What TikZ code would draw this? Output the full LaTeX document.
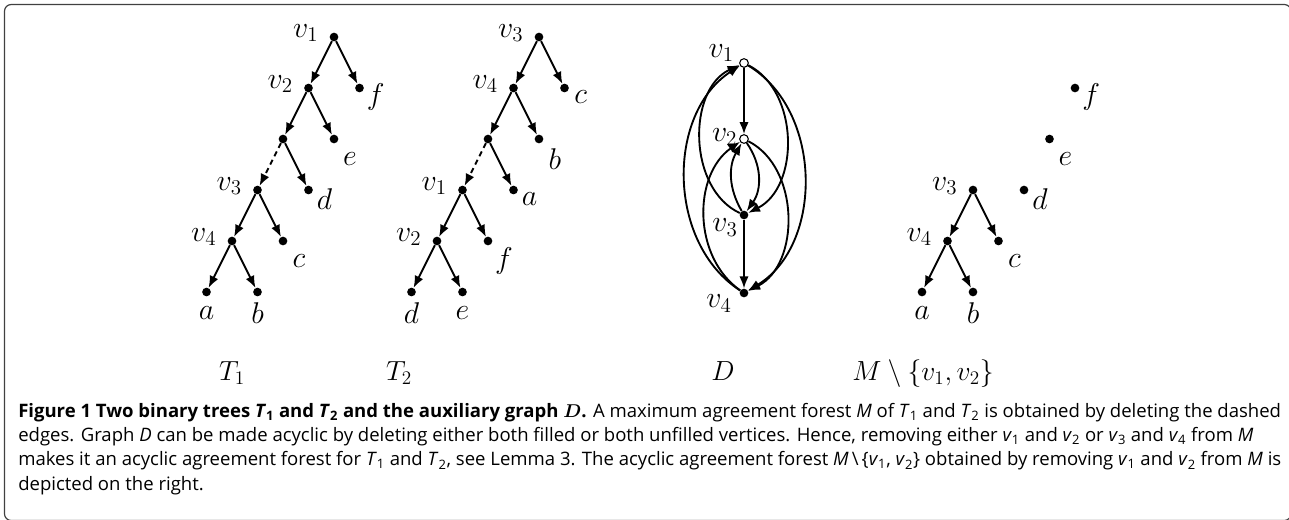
\RequirePackage{fix-cm}
\documentclass[tikz,border=0pt]{standalone}
\usepackage{amsmath,bm}
\usepackage{fontspec}
\newfontfamily\capfont{Open Sans}
\usetikzlibrary{arrows.meta,positioning}

\begin{document}
\begin{tikzpicture}[x=0.75pt, y=-0.75pt,
 node distance=38.25pt and 19.125pt, on grid, >={Latex[length=9pt,width=7pt]},
 font=\fontsize{22.5pt}{27pt}\selectfont,
 vtx/.style={circle, fill, inner sep=0pt, minimum size=6.5pt},
 ovtx/.style={vtx, draw, fill=white, line width=0.8pt, minimum size=6.5pt},
 every edge/.style={draw, ->, line width=1.4pt},
 lv/.style={label={[anchor=center, label distance=18pt]172:$#1$}},
 lr/.style={label={[anchor=center, label distance=10.5pt]-30:$#1$}},
 lbr/.style={label={[anchor=center, label distance=16pt]-52:$#1$}},
 lb/.style={label={[anchor=center, label distance=12pt]-90:$#1$}},
 title/.style={anchor=base, font=\huge},
 captext/.style={font=\capfont\fontsize{13.9pt}{18.2pt}\selectfont, align=left, inner sep=0pt, anchor=north west}]
\useasboundingbox (0,0) rectangle (1289,519);
\draw[black!75, line width=0.9pt, rounded corners=5pt] (4.5,4.5) rectangle (1291,520.5);

% T1
\node[vtx, lv=v_1] (a1) at (334,37) {};
\node[vtx, below left=of a1, lv=v_2] (a2) {};
\node[vtx, below right=of a1, lr=f] (af) {};
\node[vtx, below left=of a2] (ax) {};
\node[vtx, below right=of a2, lbr=e] (ae) {};
\node[vtx, below left=of ax, lv=v_3] (a3) {};
\node[vtx, below right=of ax, lr=d] (ad) {};
\node[vtx, below left=of a3, lv=v_4] (a4) {};
\node[vtx, below right=of a3, lbr=c] (ac) {};
\node[vtx, below left=of a4, lb=a] (aa) {};
\node[vtx, below right=of a4, lb=b] (ab) {};
\draw (a1) edge (a2) (a1) edge (af) (a2) edge (ax) (a2) edge (ae)
 (ax) edge[dash pattern=on 4pt off 3pt] (a3) (ax) edge (ad) (a3) edge (a4) (a3) edge (ac)
 (a4) edge (aa) (a4) edge (ab);

% T2
\node[vtx, right=153.75pt of a1, lv=v_3] (b3) {};
\node[vtx, below left=of b3, lv=v_4] (b4) {};
\node[vtx, below right=of b3, lr=c] (bc) {};
\node[vtx, below left=of b4] (bx) {};
\node[vtx, below right=of b4, lbr=b] (bb) {};
\node[vtx, below left=of bx, lv=v_1] (b1) {};
\node[vtx, below right=of bx, lr=a] (ba) {};
\node[vtx, below left=of b1, lv=v_2] (b2) {};
\node[vtx, below right=of b1, lbr=f] (bf) {};
\node[vtx, below left=of b2, lb=d] (bd) {};
\node[vtx, below right=of b2, lb=e] (be) {};
\draw (b3) edge (b4) (b3) edge (bc) (b4) edge (bx) (b4) edge (bb)
 (bx) edge[dash pattern=on 4pt off 3pt] (b1) (bx) edge (ba) (b1) edge (b2) (b1) edge (bf)
 (b2) edge (bd) (b2) edge (be);

% D
\node[ovtx, label={[anchor=center, label distance=15pt]156:$v_1$}] (d1) at (744,63) {};
\node[ovtx, below=57pt of d1, label={[anchor=center, label distance=11pt]174:$v_2$}] (d2) {};
\node[vtx, below=57pt of d2, label={[anchor=center, label distance=13.5pt]213:$v_3$}] (d3) {};
\node[vtx, below=58.5pt of d3, label={[anchor=center, label distance=17pt]203:$v_4$}] (d4) {};
\draw (d1) edge (d2) (d3) edge (d4)
 (d1) edge[bend left=63] (d3) (d3) edge[bend left=65] (d1)
 (d1) edge[bend left=59] (d4) (d4) edge[bend left=57] (d1)
 (d2) edge[bend left=35] (d3) (d3) edge[bend left=30] (d2)
 (d2) edge[bend left=63] (d4) (d4) edge[bend left=55] (d2);

% M minus {v1,v2}
\node[vtx, lv=v_3] (m3) at (973,190) {};
\node[vtx, below left=of m3, lv=v_4] (m4) {};
\node[vtx, below right=of m3, lbr=c] (mc) {};
\node[vtx, below left=of m4, lb=a] (ma) {};
\node[vtx, below right=of m4, lb=b] (mb) {};
\node[vtx, right=38.25pt of m3, lr=d] (md) {};
\node[vtx, above right=of md, lbr=e] (me) {};
\node[vtx, above right=of me, lr=f] (mf) {};
\draw (m3) edge (m4) (m3) edge (mc) (m4) edge (ma) (m4) edge (mb);

% titles
\node[title] (t1) at (232,380) {$T_1$};
\node[title] (t2) at (399,380) {$T_2$};
\node[title] (td) at (723,380) {$D$};
\node[title] (tm) at (923,380) {$M\setminus\{v_1,v_2\}$};

\node[captext] (cap) at (18,403) {\textbf{Figure 1 Two binary trees \textit{T}\textsubscript{1} and \textit{T}\textsubscript{2} and the auxiliary graph $\bm{D}$.} A maximum agreement forest \textit{M} of \textit{T}\textsubscript{1} and \textit{T}\textsubscript{2} is obtained by deleting the dashed\\
edges. Graph \textit{D} can be made acyclic by deleting either both filled or both unfilled vertices. Hence, removing either \textit{v}\textsubscript{1} and \textit{v}\textsubscript{2} or \textit{v}\textsubscript{3} and \textit{v}\textsubscript{4} from \textit{M}\\
makes it an acyclic agreement forest for \textit{T}\textsubscript{1} and \textit{T}\textsubscript{2}, see Lemma 3. The acyclic agreement forest \textit{M}\,\textbackslash\,\{\textit{v}\textsubscript{1}, \textit{v}\textsubscript{2}\} obtained by removing \textit{v}\textsubscript{1} and \textit{v}\textsubscript{2} from \textit{M} is\\
depicted on the right.};
\end{tikzpicture}
\end{document}
